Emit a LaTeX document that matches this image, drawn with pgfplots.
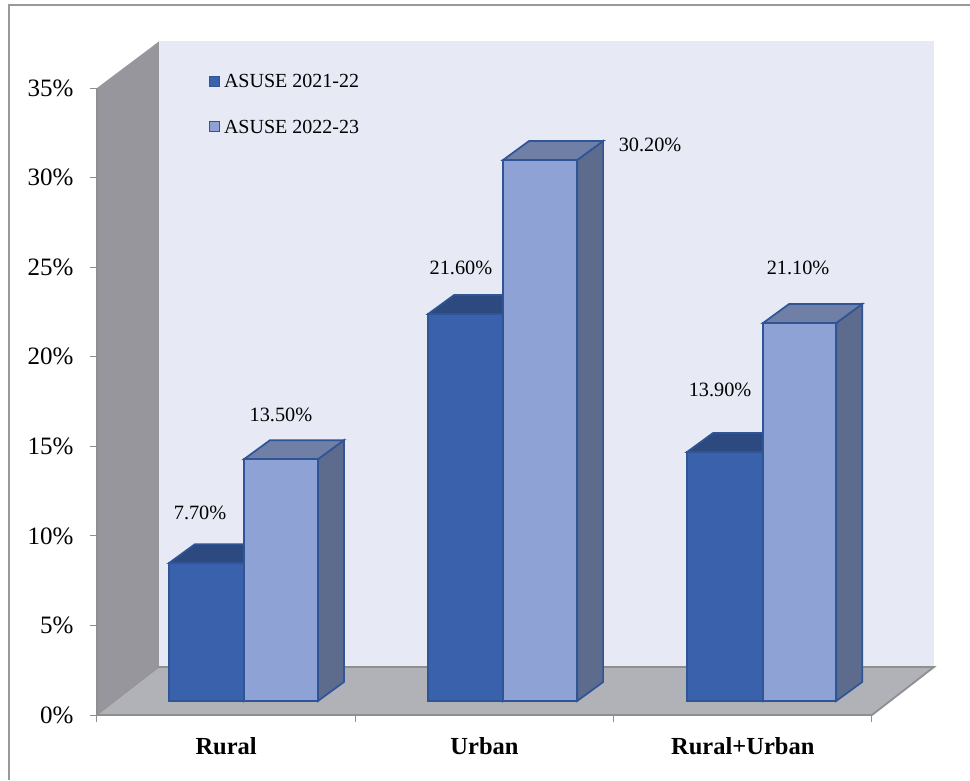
\documentclass[border=0pt]{standalone}
\usepackage{pgfplots}
\pgfplotsset{compat=1.18}
\usepackage{fontspec}
\setmainfont{Liberation Serif}

\definecolor{backwall}{HTML}{E7E9F5}
\definecolor{sidewall}{HTML}{96969C}
\definecolor{floorc}{HTML}{B0B2B8}
\definecolor{wallline}{HTML}{8F8F8F}
\definecolor{edgeblue}{HTML}{2F5597}
\definecolor{darkfront}{HTML}{3A62AC}
\definecolor{darktop}{HTML}{2C4A80}
\definecolor{darkside}{HTML}{2C4A80}
\definecolor{lightfront}{HTML}{8FA2D5}
\definecolor{lighttop}{HTML}{6F7FA6}
\definecolor{lightside}{HTML}{5D6B8C}

% depth of a bar in axis units (26px across, 19px up), bars stand 15px above the front edge
\def\dx{0.1006}
\def\dy{1.06}
\def\base{0.78}

% #1 left x, #2 right x, #3 value, #4 front, #5 top, #6 side
\newcommand{\solidbar}[6]{%
  \pgfmathsetmacro{\ty}{#3+\base}
  \pgfmathsetmacro{\bx}{#2+\dx}
  \pgfmathsetmacro{\lx}{#1+\dx}
  \pgfmathsetmacro{\by}{\ty+\dy}
  \pgfmathsetmacro{\sy}{\base+\dy}
  \addplot[fill=#6,draw=edgeblue,line width=1.7pt,forget plot]
    coordinates {(#2,\base) (\bx,\sy) (\bx,\by) (#2,\ty)} --cycle;
  \addplot[fill=#5,draw=edgeblue,line width=1.7pt,forget plot]
    coordinates {(#1,\ty) (\lx,\by) (\bx,\by) (#2,\ty)} --cycle;
  \addplot[fill=#4,draw=edgeblue,line width=1.7pt,forget plot]
    coordinates {(#1,\base) (#2,\base) (#2,\ty) (#1,\ty)} --cycle;
}

\begin{document}
\begin{tikzpicture}
\path[use as bounding box] (-97pt,-65pt) rectangle (873pt,715pt);
\fill[white] (-97pt,-65pt) rectangle (873pt,715pt);
\draw[color=black!40,line width=1.5pt] (-88pt,-65pt) -- (-88pt,710pt) -- (873pt,710pt);
\begin{axis}[
    x=258.33pt, y=17.914pt,
    xmin=0, xmax=3,
    ymin=0, ymax=35,
    clip=false,
    axis lines=left,
    axis line style={draw=wallline,line width=1.2pt,-},
    xtick={0,1,2,3},
    xticklabels={},
    x tick style={draw=wallline,line width=1pt},
    extra x ticks={0.5,1.5,2.5},
    extra x tick labels={Rural,Urban,Rural+Urban},
    extra x tick style={major tick length=0pt,
        tick label style={font=\fontsize{24.5}{24.5}\selectfont\bfseries,yshift=-19pt}},
    ytick={0,5,10,15,20,25,30,35},
    yticklabel={\pgfmathprintnumber{\tick}\%},
    y tick label style={font=\fontsize{25}{25}\selectfont,xshift=-13pt},
    y tick style={draw=wallline,line width=1pt},
    major tick length=7pt,
    tick align=outside,
    /pgf/number format/assume math mode=true,
    legend style={at={(axis cs:0.4314,35.9)},anchor=north west,draw=none,fill=none,
        font=\fontsize{20}{20}\selectfont,row sep=27pt,inner sep=0pt},
    legend cell align=left,
    legend image code/.code={\path[draw=none,fill=none] (0pt,0pt) -- (13pt,0pt);
        \draw[#1,line width=0.8pt] (0pt,-4.5pt) rectangle (10pt,5.5pt);},
]
% walls and floor
\addplot[fill=backwall,draw=none,forget plot]
    coordinates {(0.2400,2.68) (3.2400,2.68) (3.2400,37.6) (0.2400,37.6)} --cycle;
\addplot[fill=sidewall,draw=none,forget plot]
    coordinates {(0,0) (0.2400,2.68) (0.2400,37.6) (0,35)} --cycle;
\addplot[fill=floorc,draw=none,forget plot]
    coordinates {(0,0) (3,0) (3.2400,2.68) (0.2400,2.68)} --cycle;
\addplot[draw=wallline,line width=0.6pt,forget plot]
    coordinates {(0,0) (0.2400,2.68)};
\addplot[draw=wallline,line width=1.8pt,forget plot]
    coordinates {(0,35) (0,0) (3,0) (3.2400,2.68) (0.2400,2.68)};

% legend entries (nothing drawn, only the keys)
\addplot[fill=darkfront,draw=edgeblue] coordinates {(0,0)};
\addlegendentry{ASUSE 2021-22}
\addplot[fill=lightfront,draw=edgeblue] coordinates {(0,0)};
\addlegendentry{ASUSE 2022-23}

% Rural
\solidbar{0.2787}{0.5690}{7.7}{darkfront}{darktop}{darkside}
\solidbar{0.5690}{0.8552}{13.5}{lightfront}{lighttop}{lightside}
% Urban
\solidbar{1.2812}{1.5716}{21.6}{darkfront}{darktop}{darkside}
\solidbar{1.5716}{1.8587}{30.2}{lightfront}{lighttop}{lightside}
% Rural+Urban
\solidbar{2.2838}{2.5780}{13.9}{darkfront}{darktop}{darkside}
\solidbar{2.5780}{2.8613}{21.1}{lightfront}{lighttop}{lightside}

\begin{scope}[every node/.style={font=\fontsize{20.3}{20.3}\selectfont}]
\node at (axis cs:0.399,11.28) {7.70\%};
\node at (axis cs:0.712,16.75) {13.50\%};
\node at (axis cs:1.409,24.95) {21.60\%};
\node at (axis cs:2.141,31.82) {30.20\%};
\node at (axis cs:2.412,18.14) {13.90\%};
\node at (axis cs:2.714,24.95) {21.10\%};
\end{scope}
\end{axis}
\end{tikzpicture}
\end{document}
